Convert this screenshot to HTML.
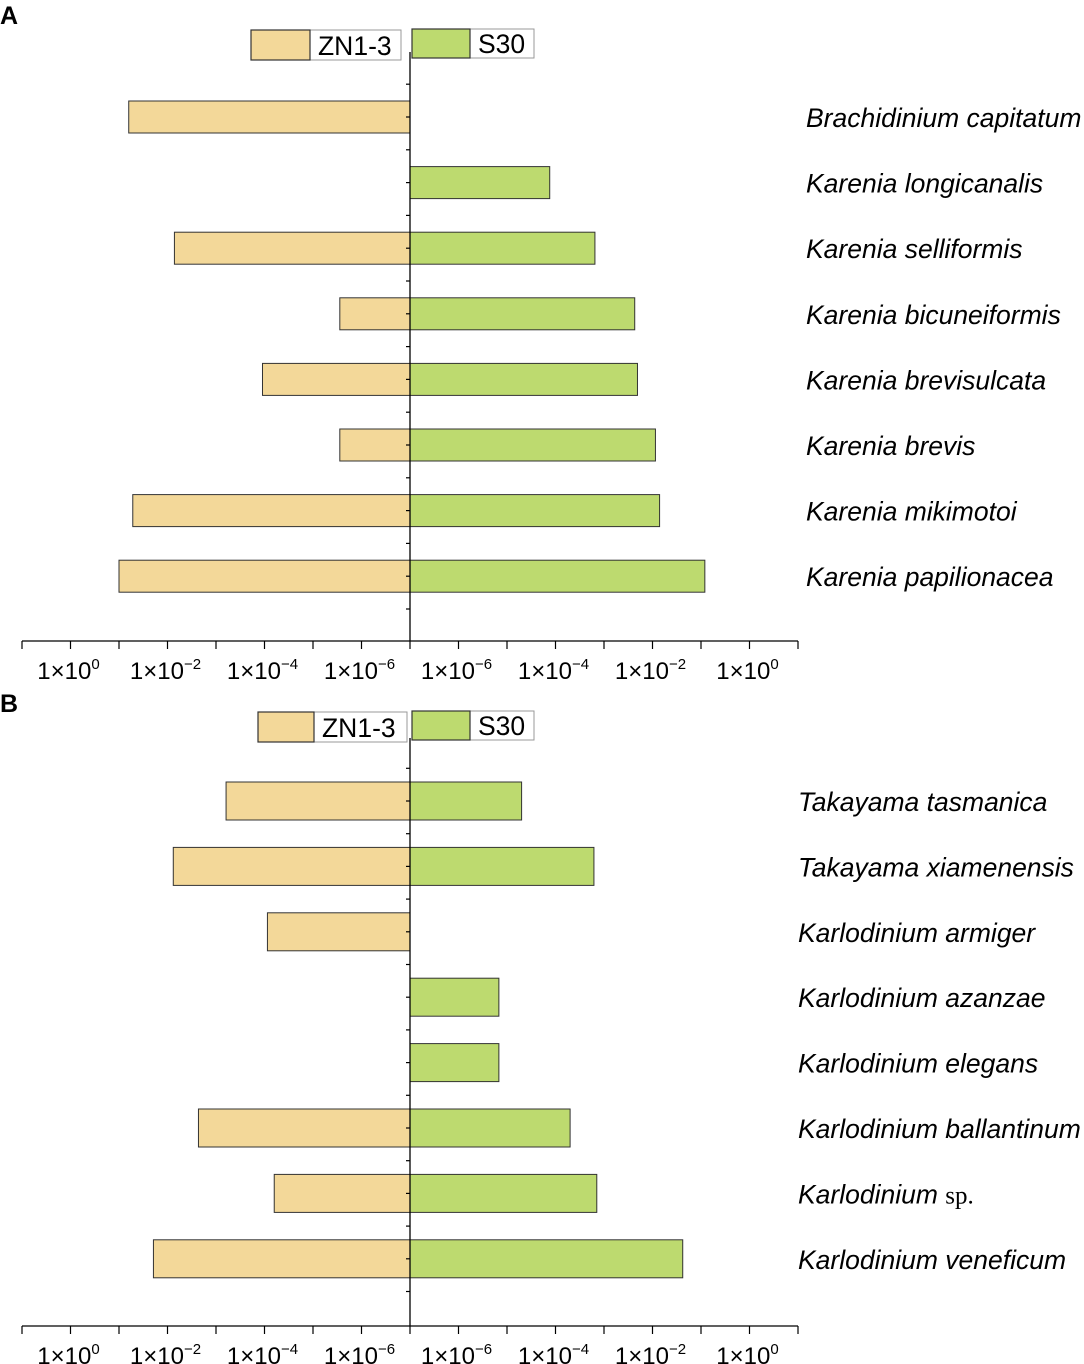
<!DOCTYPE html>
<html><head><meta charset="utf-8">
<style>
body{margin:0;background:#fff;}
svg{display:block;font-family:"Liberation Sans",Arial,sans-serif;}
</style></head>
<body>
<svg id="chart" width="1084" height="1364" viewBox="0 0 1084 1364"></svg>
<script>
const speciesA = ["Brachidinium capitatum","Karenia longicanalis","Karenia selliformis","Karenia bicuneiformis","Karenia brevisulcata","Karenia brevis","Karenia mikimotoi","Karenia papilionacea"];
const znA = [6.3e-2, null, 7.2e-3, 2.8e-6, 1.1e-4, 2.8e-6, 5.2e-2, 1.0e-1];
const s30A = [null, 7.6e-5, 6.5e-4, 4.3e-3, 4.9e-3, 1.15e-2, 1.4e-2, 1.2e-1];
const speciesB = ["Takayama tasmanica","Takayama xiamenensis","Karlodinium armiger","Karlodinium azanzae","Karlodinium elegans","Karlodinium ballantinum","Karlodinium sp.","Karlodinium veneficum"];
const znB = [6.2e-4, 7.6e-3, 8.7e-5, null, null, 2.3e-3, 6.3e-5, 1.95e-2];
const s30B = [2.0e-5, 6.2e-4, null, 6.8e-6, 6.8e-6, 2.0e-4, 7.1e-4, 4.2e-2];
const tickLabelsLeft = ["0","-2","-4","-6"];
const tickLabelsRight = ["-6","-4","-2","0"];

const NS="http://www.w3.org/2000/svg";
const svg=document.getElementById('chart');
function mk(tag,attrs,parent){const e=document.createElementNS(NS,tag);for(const k in attrs)e.setAttribute(k,attrs[k]);(parent||svg).appendChild(e);return e;}
const CX=410, DEC=48.5, BASE=-7;
function xLen(v){return (Math.log10(v)-BASE)*DEC;}

function panel(cfg){
  const g=mk('g',{});
  
  
  const t=mk('text',{x:0,y:cfg.letterY,'font-size':25,'font-weight':'bold',fill:'#000'},g);
  t.textContent=cfg.letter;
  
  
  const lg=mk('g',{},g);
  
  
  mk('rect',{x:cfg.lz,y:cfg.legY,width:401-cfg.lz+cfg.lzExtra,height:30,fill:'#fff',stroke:'#999','stroke-width':1},lg);
  mk('rect',{x:cfg.lz,y:cfg.legY,width:cfg.lzw,height:30,fill:'#f3d899',stroke:'#333','stroke-width':1.2},lg);
  const t1=mk('text',{x:cfg.lz+cfg.lzw+8,y:cfg.legY+25,'font-size':26.5,fill:'#000'},lg);t1.textContent='ZN1-3';
  
  
  mk('rect',{x:412,y:cfg.legY-1,width:122,height:29,fill:'#fff',stroke:'#999','stroke-width':1},lg);
  mk('rect',{x:412,y:cfg.legY-1,width:58,height:29,fill:'#bdda6f',stroke:'#333','stroke-width':1.2},lg);
  const t2=mk('text',{x:478,y:cfg.legY+23,'font-size':26.5,fill:'#000'},lg);t2.textContent='S30';
  
  
  cfg.species.forEach((sp,i)=>{
    const cy=cfg.y0+i*cfg.step;
    if(cfg.zn[i]!=null){const w=xLen(cfg.zn[i]);
      const r=mk('rect',{x:CX-w,y:cy-cfg.bh/2,width:w,height:cfg.bh,fill:'#f3d899',stroke:'#333','stroke-width':1},g);
      
      }
    if(cfg.s30[i]!=null){const w=xLen(cfg.s30[i]);
      const r=mk('rect',{x:CX,y:cy-cfg.bh/2,width:w,height:cfg.bh,fill:'#bdda6f',stroke:'#333','stroke-width':1},g);
      
      }
    const lbl=mk('text',{x:cfg.labelX,y:cy+10,'font-size':26.5,'font-style':'italic',fill:'#000'},g);
    if(sp.endsWith(' sp.')){lbl.textContent=sp.slice(0,-4)+' ';const ts=mk('tspan',{'font-style':'normal','font-family':'Liberation Serif, serif','font-size':25},lbl);ts.textContent='sp.';}
    else lbl.textContent=sp;
    
    
  });
  const va=mk('line',{x1:CX,y1:cfg.axTop,x2:CX,y2:cfg.axY,stroke:'#000','stroke-width':1.3},g);
  
  
  for(let k=-1;k<=2*cfg.species.length+1;k++){
    const y=cfg.y0+k*cfg.step/2; if(y<cfg.axTop||y>cfg.axY-3)continue;
    mk('line',{x1:CX-4,y1:y,x2:CX,y2:y,stroke:'#000','stroke-width':1.2},g);
  }
  const ha=mk('line',{x1:22,y1:cfg.axY,x2:798,y2:cfg.axY,stroke:'#000','stroke-width':1.3},g);
  
  
  for(let k=-8;k<=8;k++){const x=CX+k*DEC;
    mk('line',{x1:x,y1:cfg.axY,x2:x,y2:cfg.axY+8,stroke:'#000','stroke-width':1.2},g);}
  const place=(x,exp)=>{const t=mk('text',{x:x,y:cfg.axY+38,'font-size':24,'text-anchor':'middle',fill:'#000'},g);
    t.textContent='1×10';const s=mk('tspan',{dy:-10,'font-size':15},t);s.textContent=exp.replace('-','−');
    
    };
  tickLabelsLeft.forEach((l,i)=>place(CX-DEC*(8-2*i)+DEC*1-2,l));
  tickLabelsRight.forEach((l,i)=>place(CX+DEC*(1+2*i)-2,l));
}
panel({name:'panel-a',letter:'A',letterY:24,legY:30,lz:251,lzw:59,lzExtra:0,species:speciesA,zn:znA,s30:s30A,y0:117,step:65.6,bh:32,labelX:806,axTop:52,axY:641});
panel({name:'panel-b',letter:'B',letterY:712,legY:712,lz:258,lzw:56,lzExtra:6,species:speciesB,zn:znB,s30:s30B,y0:801,step:65.4,bh:38,labelX:798,axTop:738,axY:1326});
</script>
</body></html>
